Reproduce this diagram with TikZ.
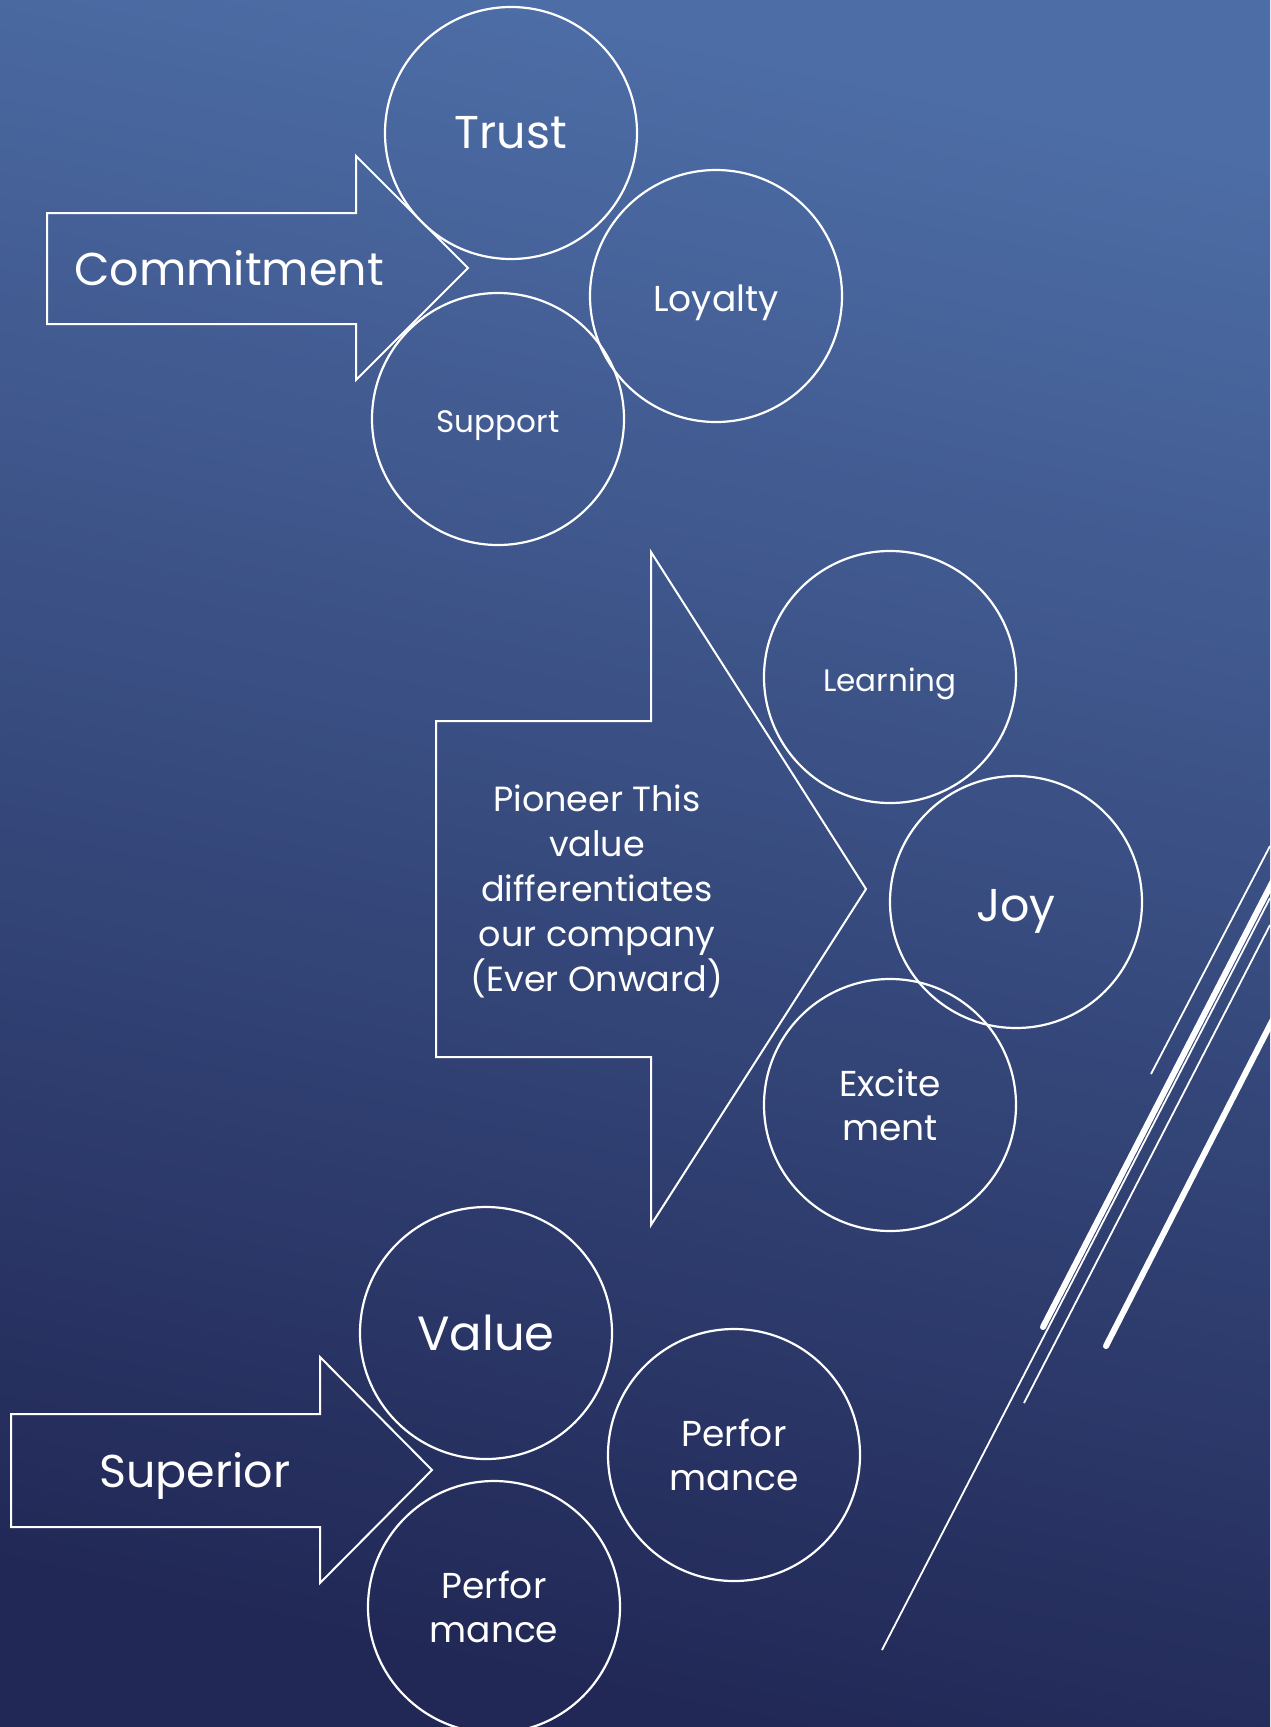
\documentclass[tikz,border=0pt]{standalone}
\usepackage{fontspec}
\setmainfont{Poppins}
\definecolor{sfondoalto}{HTML}{4D6DA6}
\definecolor{sfondobasso}{HTML}{212856}
\begin{document}
\begin{tikzpicture}[x=1pt, y=-1pt,
    bolla/.style={circle, draw=white, line width=2.2pt, minimum size=252pt, inner sep=0pt, text=white, align=center},
    giu/.style={text depth=0pt},
    freccia/.style={draw=white, line width=2pt, line join=miter},
    testo/.style={text=white, align=center, inner sep=0pt},
    linea/.style={white, line width=1.8pt},
    lineaspessa/.style={white, line width=6pt, line cap=round}]

    % Sfondo
    \shade[top color=sfondoalto, bottom color=sfondobasso, shading angle=-12] (0,0) rectangle (1270,1727);
    \useasboundingbox (0,0) rectangle (1270,1727);

    % Freccia Commitment
    \draw[freccia] (47,213) -- (356,213) -- (356,156) -- (468,268) -- (356,380) -- (356,324) -- (47,324) -- cycle;
    \node[testo, font=\fontsize{46}{56}\selectfont] (commitment) at (229,268) {Commitment};

    % Cerchi Commitment
    \node[bolla, font=\fontsize{46}{56}\selectfont] (trust) at (511,133) {Trust};
    \node[bolla, giu, font=\fontsize{36}{44}\selectfont] (loyalty) at (716,296) {\raisebox{-5pt}{Loyalty}};
    \node[bolla, giu, font=\fontsize{31}{40}\selectfont] (support) at (498,419) {\raisebox{-5pt}{Support}};

    % Freccia Pioneer
    \draw[freccia] (436,721) -- (651,721) -- (651,552) -- (866,889) -- (651,1225) -- (651,1057) -- (436,1057) -- cycle;
    \node[testo, font=\fontsize{35}{45}\selectfont] (pioneer) at (597,891)
        {Pioneer This\\value\\differentiates\\our company\\(Ever Onward)};

    % Cerchi Pioneer
    \node[bolla, giu, font=\fontsize{31}{40}\selectfont] (learning) at (890,677) {\raisebox{-5pt}{Learning}};
    \node[bolla, giu, font=\fontsize{46}{56}\selectfont] (joy) at (1016,902) {\raisebox{-7pt}{Joy}};
    \node[bolla, font=\fontsize{36}{44}\selectfont] (excitement) at (890,1105) {Excite\\ment};

    % Freccia Superior
    \draw[freccia] (11,1414) -- (320,1414) -- (320,1357) -- (432,1470) -- (320,1583) -- (320,1527) -- (11,1527) -- cycle;
    \node[testo, font=\fontsize{46}{56}\selectfont] (superior) at (195,1476) {Superior};

    % Cerchi Superior
    \node[bolla, font=\fontsize{48}{58}\selectfont] (value) at (486,1333) {Value};
    \node[bolla, font=\fontsize{36}{44}\selectfont] (perfa) at (734,1455) {Perfor\\mance};
    \node[bolla, font=\fontsize{36}{44}\selectfont] (perfb) at (494,1607) {Perfor\\mance};

    % Linee decorative
    \draw[linea] (1270,846) -- (1151,1074);
    \draw[lineaspessa] (1290,848) -- (1043,1327);
    \draw[linea] (1270,898) -- (882,1650);
    \draw[linea] (1270,925) -- (1024,1403);
    \draw[lineaspessa] (1290,986) -- (1106,1346);
\end{tikzpicture}
\end{document}
